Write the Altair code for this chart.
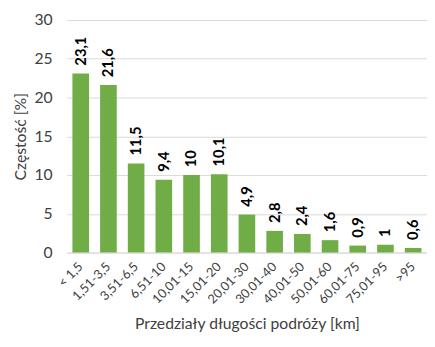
import altair as alt
import pandas as pd

categories = ["< 1,5", "1,51-3,5", "3,51-6,5", "6,51-10", "10,01-15", "15,01-20",
              "20,01-30", "30,01-40", "40,01-50", "50,01-60", "60,01-75", "75,01-95", ">95"]
values = [23.1, 21.6, 11.5, 9.4, 10, 10.1, 4.9, 2.8, 2.4, 1.6, 0.9, 1, 0.6]
labels = ["23,1", "21,6", "11,5", "9,4", "10", "10,1", "4,9", "2,8", "2,4", "1,6", "0,9", "1", "0,6"]

df = pd.DataFrame({"cat": categories, "val": values, "lab": labels})

FONT = "Lato"

x = alt.X("cat:N", sort=categories, title="Przedziały długości podróży [km]",
          scale=alt.Scale(paddingInner=0.4, paddingOuter=0.2),
          axis=alt.Axis(labelAngle=315, labelAlign="right", labelBaseline="middle",
                        labelFontSize=13, labelColor="#404040", labelFont=FONT,
                        labelOverlap=False,
                        titleFont=FONT, titleFontSize=16, titleFontWeight="normal",
                        titleColor="#404040", titlePadding=10,
                        ticks=False, domainColor="#d9d9d9", labelPadding=12))
y = alt.Y("val:Q", title="Częstość [%]",
          scale=alt.Scale(domain=[0, 30]),
          axis=alt.Axis(values=[0, 5, 10, 15, 20, 25, 30], labelFontSize=16,
                        labelOverlap=False,
                        labelColor="#404040", labelFont=FONT, titleFont=FONT,
                        titleFontSize=16, titleFontWeight="normal", titleColor="#404040",
                        domain=False, ticks=False, gridColor="#d9d9d9",
                        labelPadding=15, titlePadding=6))

bars = alt.Chart(df).mark_bar(color="#70AD47").encode(x=x, y=y)
text = alt.Chart(df).mark_text(angle=270, align="left", baseline="middle", dx=8,
                               fontWeight="bold", fontSize=15, font=FONT,
                               color="#000000").encode(x=x, y=y, text="lab:N")

chart = (bars + text).properties(
    width=367, height=237,
    autosize=alt.AutoSizeParams(type="none"),
    padding={"left": 60, "top": 9, "right": 0, "bottom": 93},
).configure_view(stroke=None)

chart.save("out.html", embed_options={"renderer": "svg", "actions": False})
